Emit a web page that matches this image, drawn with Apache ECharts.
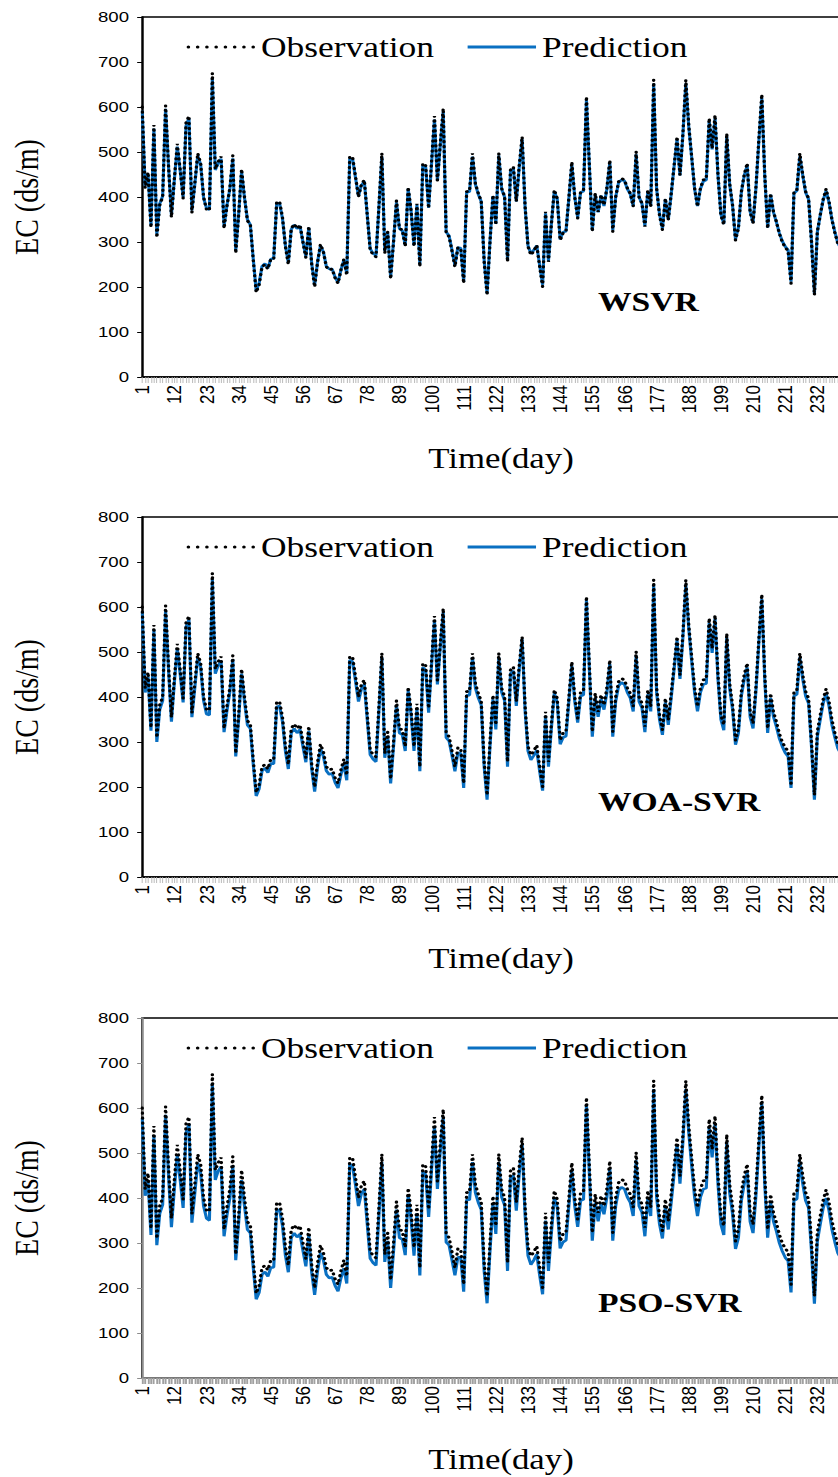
<!DOCTYPE html>
<html>
<head>
<meta charset="utf-8">
<script src="https://cdn.jsdelivr.net/npm/echarts@6/dist/echarts.min.js"></script>
<style>
html,body{margin:0;padding:0;overflow:hidden;background:#fff;width:838px;height:1477px;}
#chart{position:absolute;left:0;top:0;width:740px;height:1477px;transform:scaleX(1.2);transform-origin:0 0;}
</style>
</head>
<body>
<div id="chart"></div>
<script>
const days = Array.from({length: 242}, (_, i) => String(i + 1));
const panelNames = ['WSVR', 'WOA-SVR', 'PSO-SVR'];
const yTicks = [0, 100, 200, 300, 400, 500, 600, 700, 800];

const observation = [
600,420,455,332,560,310,382,400,603,470,
355,440,518,460,397,565,580,365,430,497,
475,400,372,370,675,462,478,490,330,380,
420,492,275,360,462,400,347,340,260,188,
205,245,250,240,262,262,388,390,355,290,
250,330,340,330,338,300,265,335,250,200,
255,295,278,245,238,240,220,208,238,262,
226,490,488,445,400,428,438,360,282,272,
267,380,497,275,322,218,300,392,330,327,
290,422,370,290,385,245,475,470,375,478,
580,437,520,597,320,312,280,245,287,286,
208,412,413,497,430,408,391,256,182,300,
404,338,497,419,401,256,460,467,390,470,
534,380,290,271,280,293,245,201,367,256,
340,416,397,304,320,323,400,478,400,353,
412,415,623,470,323,408,367,405,382,420,
482,323,400,434,441,438,420,408,379,501,
400,386,334,416,379,660,420,360,327,397,
349,408,470,534,449,540,660,560,490,420,
379,420,438,440,575,508,582,450,360,338,
541,430,382,304,330,412,450,475,367,341,
423,530,628,450,330,408,367,345,319,300,
288,280,208,412,416,497,450,412,397,300,
182,323,360,395,418,390,349,320,297,285];

const predWSVR = [
592,425,450,338,552,318,385,402,596,468,
360,438,512,458,400,558,575,370,428,492,
472,398,375,372,665,460,475,485,335,382,
418,486,280,362,456,398,350,338,262,192,
208,246,252,242,262,264,384,386,352,292,
254,328,338,330,335,300,268,332,252,204,
256,292,278,246,240,240,222,210,238,260,
230,485,484,442,402,426,435,360,285,275,
270,378,490,280,320,222,302,388,330,325,
293,418,368,293,383,250,470,466,376,474,
572,436,516,590,322,314,282,248,288,286,
212,410,412,490,428,406,390,260,186,302,
402,340,492,417,400,260,456,463,390,466,
528,378,292,274,282,292,248,205,364,258,
340,412,396,306,322,324,398,472,400,355,
410,413,615,468,326,405,366,403,380,418,
477,326,400,432,438,436,418,406,380,495,
400,385,336,413,380,652,418,362,330,395,
350,406,468,528,448,538,652,556,488,418,
380,418,435,438,568,506,575,448,362,340,
535,428,380,306,332,410,448,470,368,343,
420,525,620,448,332,405,366,344,320,302,
290,282,212,408,414,490,448,410,395,302,
186,322,360,393,414,388,350,322,298,286];

const predWOA = [
590,410,445,325,550,300,372,392,592,460,
345,432,508,450,388,556,572,355,420,488,
466,392,362,360,662,452,470,480,322,370,
412,484,268,350,452,390,338,330,250,180,
196,236,242,232,252,252,378,380,345,280,
240,320,330,320,328,290,255,325,240,190,
245,285,268,236,228,230,210,198,228,250,
215,482,478,435,390,418,428,350,272,262,
256,370,488,265,312,208,290,382,320,316,
280,414,360,280,375,235,466,460,365,470,
570,428,512,588,310,302,270,235,276,275,
198,404,404,488,420,398,382,245,172,290,
395,328,488,410,392,245,452,458,380,462,
528,370,280,260,270,282,235,192,358,245,
330,408,388,295,310,313,392,470,390,343,
402,405,615,460,312,398,356,396,372,410,
474,312,390,425,432,428,410,398,368,492,
390,376,322,406,368,650,410,350,316,388,
338,398,462,526,440,532,650,552,480,410,
368,410,428,430,565,498,574,440,350,326,
532,420,372,294,320,402,440,466,356,330,
414,522,618,440,320,398,356,334,308,290,
276,268,198,402,406,488,440,402,386,290,
172,312,350,386,408,380,338,310,286,274];

const predPSO = [
578,405,438,318,540,295,365,385,585,450,
335,420,495,440,378,545,565,345,410,478,
455,382,355,350,655,440,460,470,315,362,
400,472,262,345,440,382,330,322,245,175,
190,230,236,226,245,246,372,374,338,272,
235,312,322,313,320,283,248,318,234,185,
238,278,262,230,222,224,205,193,222,244,
210,476,470,428,382,410,420,342,266,256,
250,362,480,258,305,200,282,374,312,308,
273,406,352,272,366,228,458,452,358,462,
560,420,505,580,302,295,262,228,268,268,
192,396,396,480,412,390,374,238,166,282,
388,320,480,402,384,238,444,450,372,454,
520,362,272,252,262,275,228,186,350,238,
322,400,380,288,302,306,384,462,382,336,
394,397,607,452,305,390,348,388,364,402,
466,305,382,417,424,420,402,390,360,484,
382,368,315,398,360,642,402,342,310,380,
330,390,454,518,432,524,642,545,472,402,
360,402,420,422,556,490,566,432,342,318,
524,412,364,287,312,394,432,458,348,322,
406,514,610,432,312,390,348,326,300,282,
268,260,190,394,398,480,432,394,378,282,
165,304,342,378,400,372,330,302,278,266];

const predictions = [predWSVR, predWOA, predPSO];

const chart = echarts.init(document.getElementById('chart'), null, {renderer: 'svg'});
const tops = [17, 517, 1018];
const serif = 'Liberation Serif, Times New Roman, serif';
const sans = 'Liberation Sans, Arial, sans-serif';
const blue = '#0a70c2';
const obsLine = {color: '#000', width: 2.8, type: [0.4, 4.6], cap: 'round'};
const predLine = {color: blue, width: 2.6};

// legend icon shapes (style only)
const iconW = 57, dotR = 1.5, nDots = 8;
let dotPath = 'path://';
for (let k = 0; k < nDots; k++) {
  const cx = dotR + k * (iconW - 2 * dotR) / (nDots - 1);
  dotPath += 'M' + (cx - dotR) + ',' + dotR + 'a' + dotR + ',' + dotR + ' 0 1,0 ' + (2 * dotR) + ',0a' + dotR + ',' + dotR + ' 0 1,0 ' + (-2 * dotR) + ',0Z';
}
const barPath = 'path://M0,0L' + iconW + ',0L' + iconW + ',2.6L0,2.6Z';

const grids = [], xAxes = [], yAxes = [], series = [], legends = [], graphics = [];
tops.forEach((t, i) => {
  const axisCol = i === 2 ? '#8c8c8c' : '#000';
  grids.push({left: 116.67, top: t, width: 588.8, height: 360, show: true, borderColor: '#000', borderWidth: 1.5, backgroundColor: '#fff'});
  xAxes.push({
    type: 'category', gridIndex: i, data: days, boundaryGap: false,
    axisLine: {lineStyle: {color: axisCol, width: 1.5}},
    axisTick: {show: true, interval: 0, length: 6, lineStyle: {color: i === 2 ? '#a0a0a0' : '#b0b0b0', width: i === 2 ? 1.6 : 0.8}},
    axisLabel: {interval: 10, rotate: 90, margin: 8, fontFamily: sans, fontSize: 17, color: '#000'},
    name: 'Time(day)', nameLocation: 'middle', nameGap: 67,
    nameTextStyle: {fontFamily: serif, fontSize: 29, color: '#000', padding: [0, 0, 0, 11]},
    splitLine: {show: false}
  });
  yAxes.push({
    type: 'value', gridIndex: i, min: yTicks[0], max: yTicks[yTicks.length - 1], interval: 100,
    axisLine: {show: true, lineStyle: {color: axisCol, width: 1.5}},
    axisTick: {show: true, length: 4.2, lineStyle: {color: axisCol}},
    axisLabel: {fontFamily: sans, fontSize: 15.5, color: '#000', margin: 11},
    splitLine: {show: false},
    name: 'EC (ds/m)', nameLocation: 'middle', nameGap: 82.5,
    nameTextStyle: {fontFamily: serif, fontSize: 28, color: '#000'}
  });
  series.push({
    name: 'Prediction', type: 'line', xAxisIndex: i, yAxisIndex: i,
    data: predictions[i], showSymbol: false, symbol: 'none',
    lineStyle: predLine, itemStyle: {color: blue}, z: 2, animation: false
  });
  series.push({
    name: 'Observation', type: 'line', xAxisIndex: i, yAxisIndex: i,
    data: observation, showSymbol: false, symbol: 'none',
    lineStyle: obsLine, itemStyle: {color: '#000'}, z: 3, animation: false
  });
  legends.push({
    left: 150.5, top: t + 10, itemWidth: iconW, itemHeight: 3, itemGap: 28,
    symbolKeepAspect: false, selectedMode: false,
    textStyle: {fontFamily: serif, fontSize: 29.5, color: '#000'},
    data: [
      {name: 'Observation', icon: dotPath, itemStyle: {color: '#000'}},
      {name: 'Prediction', icon: barPath, itemStyle: {color: blue}}
    ]
  });
  graphics.push({
    type: 'text', left: 498.3, top: t + 270,
    style: {text: panelNames[i], font: 'bold 28px ' + serif, fill: '#000'}
  });
});

chart.setOption({
  animation: false,
  grid: grids, xAxis: xAxes, yAxis: yAxes, series: series, legend: legends, graphic: graphics
});
</script>
</body>
</html>
